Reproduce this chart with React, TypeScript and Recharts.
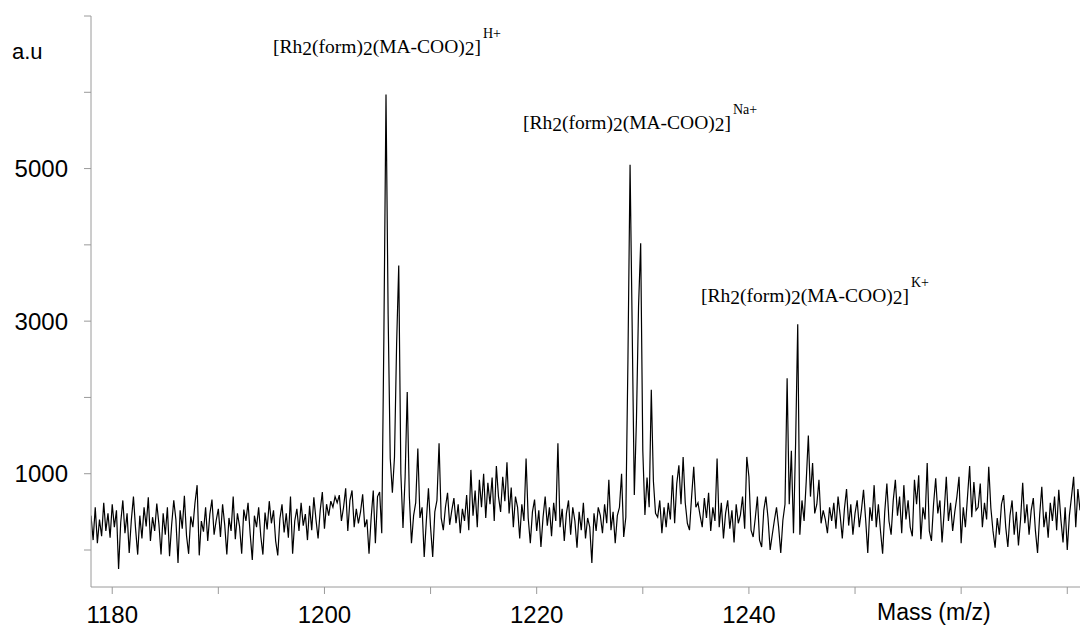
import React from 'react';
import { LineChart, Line, XAxis, YAxis, Customized } from 'recharts';

// Mass axis sampling grid (m/z)
const MASS_START = 1178.0;
const MASS_STEP = 0.2;

// Intensity (a.u), one value per 0.2 m/z, rows of 2 m/z
const INTENSITY: number[] = [
  450, 130, 560, 90, 400, 180, 620, 250, 480, 160,
  600, 300, 520, -250, 360, 650, 220, 480, -40, 390,
  700, 280, -60, 450, 150, 560, 310, 690, 120, 430,
  250, 610, 340, -60, 480, 200, 560, -80, 330, 650,
  400, -170, 520, 280, 710, 190, -50, 440, 300, 620,
  850, -70, 380, 240, 560, 120, 470, 660, 200, 390,
  540, 170, 600, 330, -60, 420, 250, 700, 140, 480,
  310, -50, 530, 380, 620, 210, -130, 450, 300, 560,
  180, -60, 490, 270, 640, 350, 520, 120, -70, 410,
  600, 230, 480, 160, 700, -50, 380, 540, 250, 620,
  320, 470, 130, 580, 260, 690, 400, 150, 520, 760,
  280, 600, 450, 640, 560, 700, 620, 720, 380, 560,
  810, 250, 650, 780, 300, 540, 350, 500, 730, 300,
  400, -50, 420, 780, 90, 700, 760, 220, 2800, 5970,
  3090, 1200, 750, 1220, 2700, 3730, 1000, 290, 950, 2070,
  700, 90, 450, 620, 1330, 420, 560, -90, 380, 810,
  300, -90, 500, 650, 1400, 420, 260, 560, 750, 330,
  520, 680, 350, 600, 220, 540, 380, 720, 260, 1050,
  450, 780, 300, 920, 560, 1000, 420, 880, 600, 950,
  380, 1100, 700, 500, 960, 640, 1150, 480, 820, 300,
  700, 560, 150, 600, 380, 1200, 420, 90, 500, 660,
  250, 520, 40, 430, 700, 320, 560, 180, 620, 380,
  1400, 300, 540, 120, 480, 650, 200, 560, 380, 30,
  500, 260, 620, 150, 420, 300, -170, 480, 250, 560,
  450, 220, 600, 350, 920, 260, 500, 90, 450, 560,
  1000, 170, 430, 2500, 5050, 2900, 720, 1700, 3200, 4020,
  1300, 460, 950, 560, 2100, 900, 480, 430, 650, 220,
  560, 300, 620, 400, 980, 350, 870, 1110, 600, 1220,
  620, 350, 260, 700, 1090, 560, 620, 450, 300, 680,
  420, 750, 250, 560, 380, 1200, 300, 620, 150, 480,
  650, 280, 520, 100, 600, 350, 460, 700, 280, 1220,
  960, 260, 170, 420, 700, 130, 40, 520, 700, 420,
  0, 200, 390, 560, 300, -40, 390, 600, 2250, 600,
  1300, 220, 1400, 2960, 200, 650, 380, 900, 1500, 700,
  1140, 480, 600, 920, 350, 520, 400, 220, 560, 380,
  620, 280, 700, 450, 150, 540, 800, 320, 600, 200,
  480, 650, 300, 520, 790, 400, -40, 560, 380, 850,
  300, 600, 250, -50, 500, 870, 380, 200, 650, 920,
  450, 700, 220, 850, 400, 650, 300, 180, 920, 600,
  980, 140, 560, 400, 1140, 250, 120, 600, 940, 480,
  650, 100, 500, 960, 380, 620, 250, 500, 700, 960,
  90, 560, 300, 700, 1100, 430, 890, 520, 560, 870,
  300, 620, 400, 1090, 550, 250, 30, 420, 200, 600,
  720, 300, 40, 450, 650, 200, 500, 60, 400, 880,
  350, 600, 200, 520, 680, 250, -40, 460, 830, 300,
  500, 160, 620, 380, 700, 260, 790, 400, 100, 560,
  0, 450, 700, 960, 300, 800, 520,
];

const X_DOMAIN: [number, number] = [1178, 1271.2];
const X_TICKS = [1180, 1190, 1200, 1210, 1220, 1230, 1240, 1250, 1260, 1270];
const X_LABELED = [1180, 1200, 1220, 1240];

const Y_DOMAIN: [number, number] = [-485, 7000];
const Y_TICKS = [0, 1000, 2000, 3000, 4000, 5000, 6000, 7000];
const Y_LABELED = [1000, 3000, 5000];

const ION_LABELS = ['H+', 'Na+', 'K+'];
const X_TITLE = 'Mass (m/z)';
const Y_TITLE = 'a.u';

const data = INTENSITY.map((v, i) => ({
  mass: Math.round((MASS_START + i * MASS_STEP) * 10) / 10,
  intensity: v,
}));

const SANS = 'Liberation Sans, Arial, Helvetica, sans-serif';
const SERIF = 'Liberation Serif, Times New Roman, serif';
const AXIS_GRAY = '#9a9a9a';

function Formula({ x, y, ion }: { x: number; y: number; ion: string }) {
  const sub = 2;
  return (
    <text x={x} y={y} fontFamily={SERIF} fontSize={19.5} fill="#000">
      <tspan>[Rh</tspan>
      <tspan dy={sub}>2</tspan>
      <tspan dy={-sub}>(form)</tspan>
      <tspan dy={sub}>2</tspan>
      <tspan dy={-sub}>(MA-COO)</tspan>
      <tspan dy={sub}>2</tspan>
      <tspan dy={-sub}>]</tspan>
      <tspan dx={2} dy={-15} fontSize={14}>{ion}</tspan>
    </text>
  );
}

function Annotations() {
  return (
    <g>
      <Formula x={273} y={53} ion={ION_LABELS[0]} />
      <Formula x={523} y={129} ion={ION_LABELS[1]} />
      <Formula x={701} y={302} ion={ION_LABELS[2]} />
      <text x={12} y={59} fontFamily={SANS} fontSize={22} fill="#000">{Y_TITLE}</text>
      <text x={877} y={620} fontFamily={SANS} fontSize={23} fill="#000">{X_TITLE}</text>
    </g>
  );
}

export default function App() {
  return (
    <div style={{ position: 'absolute', left: 0, top: 0, width: 1080, height: 628, background: '#fff' }}>
      <LineChart width={1080} height={628} data={data} margin={{ top: 16, right: 0, bottom: 0, left: 0 }}>
        <XAxis
          dataKey="mass"
          type="number"
          domain={X_DOMAIN}
          allowDataOverflow
          ticks={X_TICKS}
          interval={0}
          tickFormatter={(v: number) => (X_LABELED.includes(v) ? String(v) : '')}
          height={41}
          tickSize={7}
          tickMargin={12}
          stroke={AXIS_GRAY}
          axisLine={{ stroke: AXIS_GRAY }}
          tickLine={{ stroke: AXIS_GRAY }}
          tick={{ fill: '#000', fontSize: 24, fontFamily: SANS }}
        />
        <YAxis
          type="number"
          domain={Y_DOMAIN}
          allowDataOverflow
          ticks={Y_TICKS}
          interval={0}
          tickFormatter={(v: number) => (Y_LABELED.includes(v) ? String(v) : '')}
          width={91}
          tickSize={7}
          tickMargin={16}
          stroke={AXIS_GRAY}
          axisLine={{ stroke: AXIS_GRAY }}
          tickLine={{ stroke: AXIS_GRAY }}
          tick={{ fill: '#000', fontSize: 24, fontFamily: SANS }}
        />
        <Line
          type="linear"
          dataKey="intensity"
          stroke="#000"
          strokeWidth={1.2}
          dot={false}
          isAnimationActive={false}
        />
        <Customized component={Annotations} />
      </LineChart>
    </div>
  );
}
